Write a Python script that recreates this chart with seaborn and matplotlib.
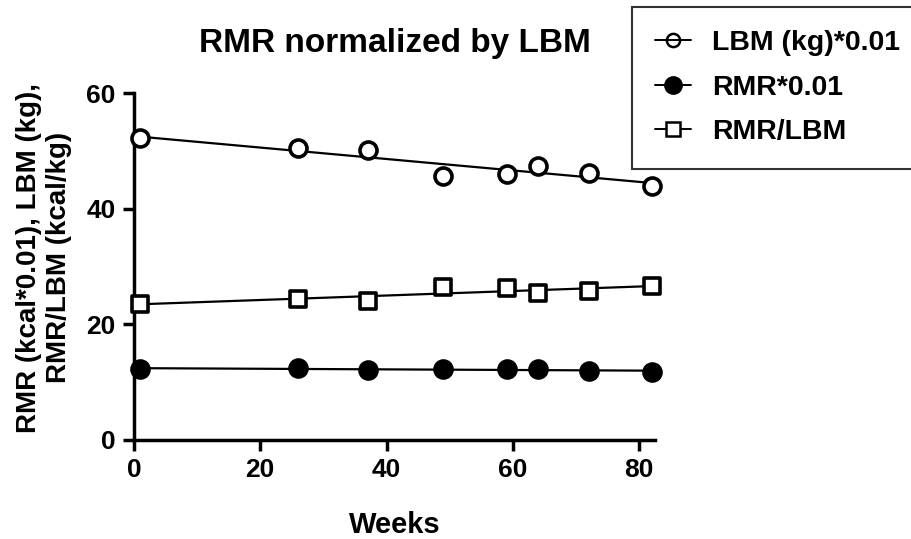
import numpy as np
import pandas as pd
import seaborn as sns
import matplotlib.pyplot as plt
from matplotlib.lines import Line2D

sns.set_style("ticks")
plt.rcParams['font.family'] = ['Liberation Sans', 'DejaVu Sans']
plt.rcParams['font.weight'] = 'bold'
plt.rcParams['text.color'] = 'black'
plt.rcParams['axes.labelcolor'] = 'black'
plt.rcParams['xtick.color'] = 'black'
plt.rcParams['ytick.color'] = 'black'

weeks = [1, 26, 37, 49, 59, 64, 72, 82]
lbm_scaled = [52.2, 50.5, 50.1, 45.6, 46.0, 47.4, 46.2, 44.0]
rmr_scaled = [12.3, 12.4, 12.1, 12.2, 12.2, 12.2, 12.0, 11.8]
rmr_per_lbm = [23.5, 24.3, 24.1, 26.5, 26.3, 25.5, 25.8, 26.6]

series_names = ["LBM (kg)*0.01", "RMR*0.01", "RMR/LBM"]
x_ticks = [0, 20, 40, 60, 80]
y_ticks = [0, 20, 40, 60]

df = pd.DataFrame({
    "Weeks": weeks * 3,
    "value": lbm_scaled + rmr_scaled + rmr_per_lbm,
    "series": np.repeat(series_names, len(weeks)),
})

fig = plt.figure(figsize=(9.11, 5.39), dpi=100)
ax = fig.add_axes([0.147, 0.184, 0.572, 0.643])

styles = {
    "LBM (kg)*0.01": dict(marker="o", facecolor="white"),
    "RMR*0.01": dict(marker="o", facecolor="black"),
    "RMR/LBM": dict(marker="s", facecolor="white"),
}

for name in series_names:
    sub = df[df["series"] == name]
    sns.regplot(data=sub, x="Weeks", y="value", ax=ax, scatter=False, ci=None,
                line_kws=dict(color="black", lw=1.6, zorder=2))
    st = styles[name]
    size = 150 if st["marker"] == "o" else 130
    sns.scatterplot(data=sub, x="Weeks", y="value", ax=ax, marker=st["marker"],
                    s=size, facecolor=st["facecolor"], edgecolor="black",
                    linewidth=2.6, zorder=3, legend=False, clip_on=False)

ax.set_xlim(0, 82.5)
ax.set_ylim(0, 60)
ax.set_xticks(x_ticks)
ax.set_yticks(y_ticks)
ax.tick_params(axis="both", direction="out", length=8, width=2.5,
               labelsize=19, pad=5, color="black", labelcolor="black")
for lab in ax.get_xticklabels() + ax.get_yticklabels():
    lab.set_fontweight("bold")
for side in ["top", "right"]:
    ax.spines[side].set_visible(False)
for side in ["left", "bottom"]:
    ax.spines[side].set_linewidth(2.5)
    ax.spines[side].set_color("black")

ax.set_xlabel("Weeks", fontsize=21, fontweight="bold", labelpad=21)
ax.set_ylabel("RMR (kcal*0.01), LBM (kg),\nRMR/LBM (kcal/kg)", fontsize=20,
              fontweight="bold", labelpad=8, linespacing=1.2)
ax.yaxis.set_label_coords(-0.118, 0.525)
ax.set_title("RMR normalized by LBM", fontsize=24, fontweight="bold", pad=30)

handles = [
    Line2D([], [], color="black", lw=1.4, marker="o", markersize=9.5,
           markerfacecolor="none", markeredgecolor="black", markeredgewidth=1.8),
    Line2D([], [], color="black", lw=1.4, marker="o", markersize=12.5,
           markerfacecolor="black", markeredgecolor="black"),
    Line2D([], [], color="black", lw=1.4, marker="s", markersize=9.5,
           markerfacecolor="white", markeredgecolor="black", markeredgewidth=1.8),
]
leg = fig.legend(handles, series_names, loc="upper left",
                 bbox_to_anchor=(0.6937, 0.987), frameon=True, fancybox=False,
                 fontsize=20.5, handlelength=1.27, handletextpad=0.72,
                 borderpad=0.82, labelspacing=0.65, borderaxespad=0)
leg.get_frame().set_edgecolor("black")
leg.get_frame().set_linewidth(1.5)
for t in leg.get_texts():
    t.set_fontweight("bold")

fig.savefig("out.png", dpi=100)
